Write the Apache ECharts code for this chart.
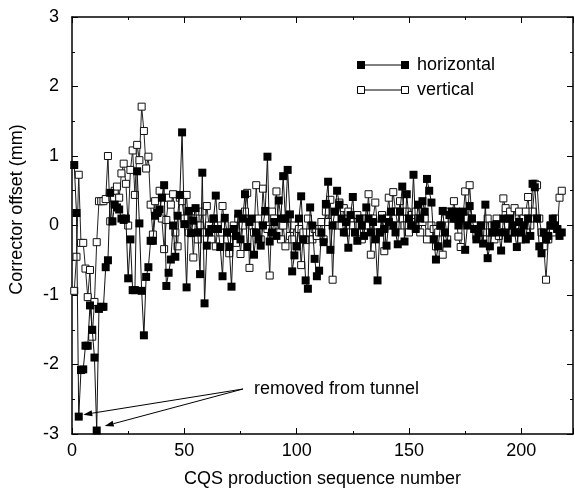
<!DOCTYPE html>
<html>
<head>
<meta charset="utf-8">
<script src="https://cdn.jsdelivr.net/npm/echarts@6/dist/echarts.min.js"></script>
<style>html,body{margin:0;padding:0;background:#fff;}#c{width:575px;height:493px;}</style>
</head>
<body>
<div id="c"></div>
<script>
// Horizontal corrector offsets (mm), sequence numbers 1..218
var horizontal = [
0.87,0.18,-2.75,-2.08,-2.07,-1.73,-1.73,-1.15,-1.5,-1.9,
-2.95,-1.2,-1.17,-1.17,-0.6,-0.5,0.47,0.06,0.3,0.26,
0.23,0.1,0.08,0.1,-0.76,-0.2,-0.93,-0.93,0.78,0.03,
-0.94,-1.58,-0.74,-0.6,-0.22,-0.22,0.14,0.18,0.23,0.4,
0.58,-0.87,-0.68,-0.49,0.0,-0.45,0.14,0.44,1.34,0.02,
-0.89,0.21,-0.11,0.07,0.25,-0.1,-0.7,0.76,-1.12,-0.29,
-0.1,-0.05,0.1,0.43,-0.05,-0.31,-0.73,0.11,-0.1,-0.31,
-0.88,-0.05,-0.15,0.17,-0.2,0.1,0.45,-0.31,0.05,0.1,
-0.42,-0.1,-0.2,-0.29,0.0,0.21,0.99,-0.23,-0.1,0.05,
-0.15,0.36,0.1,0.71,0.1,0.8,0.16,-0.66,-0.43,-0.3,
0.1,0.42,-0.2,-0.79,-0.91,0.26,0.0,-0.48,-0.73,-0.65,
-0.1,-0.24,0.31,0.63,-0.35,0.0,0.2,0.5,0.3,0.1,
-0.1,0.05,-0.32,0.15,0.41,-0.1,-0.22,0.1,0.0,-0.15,
0.26,0.1,-0.1,0.05,-0.2,-0.79,-0.1,0.1,-0.05,-0.29,
0.05,0.2,0.0,-0.1,-0.27,0.2,0.56,-0.23,0.45,0.1,
0.0,0.73,-0.05,0.3,0.1,0.35,0.2,0.67,0.5,0.33,
-0.2,-0.49,-0.3,0.0,0.21,-0.1,-0.26,0.15,0.2,0.1,
0.2,0.0,0.1,0.2,-0.35,0.0,0.28,0.1,-0.05,-0.2,
-0.1,0.0,-0.26,0.3,-0.47,-0.3,-0.1,0.0,0.02,-0.1,
-0.36,0.1,-0.1,-0.19,0.1,0.0,-0.1,-0.31,0.05,-0.1,
0.0,-0.2,0.1,-0.15,0.6,0.55,0.1,-0.3,-0.4,-0.1,
-0.2,-0.15,0.0,0.1,0.0,-0.05,-0.15,-0.1
];
// Vertical corrector offsets (mm), sequence numbers 1..218
var vertical = [
-0.94,-0.45,0.73,-0.25,-0.25,-0.62,-1.03,-0.64,-1.6,-1.1,
-0.24,0.35,0.35,0.35,0.38,1.0,0.06,0.4,0.5,0.56,
0.4,0.75,0.89,0.6,0.0,0.8,1.08,0.44,1.16,0.94,
1.71,1.36,0.82,0.99,0.3,-0.13,0.35,0.2,0.5,0.1,
-0.34,0.08,0.4,0.3,0.45,-0.1,-0.3,0.4,0.35,0.1,
0.44,-0.1,0.2,-0.46,0.1,-0.2,0.0,0.2,-0.1,0.28,
0.0,-0.2,0.1,-0.3,0.0,-0.1,0.28,0.0,-0.2,-0.4,
-0.1,0.0,-0.25,0.1,-0.41,0.0,0.2,0.47,-0.61,0.0,
-0.1,0.58,0.1,-0.2,0.53,0.1,-0.05,-0.72,0.2,0.1,
0.49,-0.1,-0.2,0.0,-0.3,0.1,-0.15,-0.2,0.0,-0.3,
-0.05,-0.57,-0.1,-0.21,0.1,-0.1,-0.2,-0.05,-0.15,-0.1,
0.05,-0.2,0.2,0.05,0.37,-0.78,0.1,0.0,0.33,0.0,
0.25,-0.1,0.2,0.1,0.0,-0.1,0.15,0.0,-0.2,0.1,
0.0,0.45,-0.42,0.1,0.33,0.0,-0.1,0.15,-0.37,0.1,
0.4,0.0,0.48,0.2,0.0,0.35,0.1,0.0,0.2,-0.1,
0.15,0.0,0.2,0.1,-0.1,0.05,0.1,-0.2,-0.1,0.0,
-0.05,-0.3,-0.1,0.0,-0.42,0.1,-0.2,0.2,0.1,0.35,
0.1,-0.16,-0.31,0.1,0.49,0.1,0.58,0.1,0.0,-0.15,
-0.1,0.0,-0.1,-0.2,0.1,-0.1,0.0,-0.2,0.1,-0.15,
0.0,0.39,0.25,0.1,0.2,-0.1,0.25,0.0,0.2,-0.2,
0.1,0.2,0.41,0.0,0.2,0.6,0.58,0.1,-0.1,-0.3,
-0.78,-0.2,0.0,-0.1,0.1,-0.05,0.4,0.5
];
var seriesNames = ['horizontal', 'vertical'];
var xTickLabels = ['0', '50', '100', '150', '200'];
var yTickLabels = ['-3', '-2', '-1', '0', '1', '2', '3'];
var annotationText = 'removed from tunnel';
var removedPoints = [[3, -2.75], [11, -2.95]];

function pairs(arr) { return arr.map(function (v, i) { return [i + 1, v]; }); }

var FONT = 'Liberation Sans, Arial, sans-serif';
var chart = echarts.init(document.getElementById('c'), null, { renderer: 'canvas' });

var axisCommon = {
  axisLine: { show: true, onZero: false, lineStyle: { color: '#000', width: 1.5 } },
  axisTick: { show: true, inside: true, length: 6, lineStyle: { color: '#000', width: 1 } },
  minorTick: { show: true, splitNumber: 2, length: 3, lineStyle: { color: '#000', width: 1 } },
  splitLine: { show: false },
  minorSplitLine: { show: false }
};

var option = {
  animation: false,
  backgroundColor: '#fff',
  grid: { left: 72, right: 2, top: 17, bottom: 54, show: false },
  xAxis: [
    Object.assign({}, axisCommon, {
      type: 'value', min: 0, max: 223, interval: 50, position: 'bottom',
      name: 'CQS production sequence number', nameLocation: 'middle', nameGap: 36,
      nameTextStyle: { fontFamily: FONT, fontSize: 18, color: '#000' },
      axisLabel: { show: true, margin: 8, fontFamily: FONT, fontSize: 18, color: '#000', showMaxLabel: false,
        formatter: function (v) { var s = String(v); return xTickLabels.indexOf(s) >= 0 ? s : ''; } }
    }),
    Object.assign({}, axisCommon, {
      type: 'value', min: 0, max: 223, interval: 50, position: 'top',
      axisLabel: { show: false }
    })
  ],
  yAxis: [
    Object.assign({}, axisCommon, {
      type: 'value', min: -3, max: 3, interval: 1, position: 'left',
      name: 'Corrector offset (mm)', nameLocation: 'middle', nameGap: 46, nameRotate: 90,
      nameTextStyle: { fontFamily: FONT, fontSize: 18, color: '#000', padding: [0, 0, 0, 32] },
      axisLabel: { show: true, margin: 13, fontFamily: FONT, fontSize: 18, color: '#000',
        formatter: function (v) { var s = String(v); return yTickLabels.indexOf(s) >= 0 ? s : ''; } }
    }),
    Object.assign({}, axisCommon, {
      type: 'value', min: -3, max: 3, interval: 1, position: 'right',
      axisLabel: { show: false }
    })
  ],
  series: [
    {
      name: seriesNames[1], type: 'line', data: pairs(vertical), z: 2,
      symbol: 'rect', symbolSize: 7, showAllSymbol: true,
      lineStyle: { color: '#222', width: 1 },
      itemStyle: { color: '#fff', borderColor: '#111', borderWidth: 1 }
    },
    {
      name: seriesNames[0], type: 'line', data: pairs(horizontal), z: 3,
      symbol: 'rect', symbolSize: 8, showAllSymbol: true,
      lineStyle: { color: '#111', width: 1 },
      itemStyle: { color: '#000', borderColor: '#000', borderWidth: 0 }
    }
  ],
  graphic: []
};
chart.setOption(option);

function buildGraphics() {
  var g = [];
  var lx1 = 361, lx2 = 405, ly = [65, 90];
  g.push({ type: 'line', shape: { x1: lx1, y1: ly[0], x2: lx2, y2: ly[0] }, style: { stroke: '#000', lineWidth: 1 } });
  [lx1, lx2].forEach(function (x) {
    g.push({ type: 'rect', shape: { x: x - 4, y: ly[0] - 4, width: 8, height: 8 }, style: { fill: '#000' } });
  });
  g.push({ type: 'text', x: 417, y: ly[0], style: { text: seriesNames[0], fontFamily: FONT, fontSize: 18, fill: '#000', verticalAlign: 'middle' } });
  g.push({ type: 'line', shape: { x1: lx1, y1: ly[1], x2: lx2, y2: ly[1] }, style: { stroke: '#000', lineWidth: 1 } });
  [lx1, lx2].forEach(function (x) {
    g.push({ type: 'rect', shape: { x: x - 3.5, y: ly[1] - 3.5, width: 7, height: 7 }, style: { fill: '#fff', stroke: '#000', lineWidth: 1 } });
  });
  g.push({ type: 'text', x: 417, y: ly[1], style: { text: seriesNames[1], fontFamily: FONT, fontSize: 18, fill: '#000', verticalAlign: 'middle' } });
  g.push({ type: 'text', x: 254, y: 389, style: { text: annotationText, fontFamily: FONT, fontSize: 18, fill: '#000', verticalAlign: 'middle' } });
  var sx = 243, sy = 389;
  var offs = [[4.5, -2], [8, -4.5]];
  removedPoints.forEach(function (p, i) {
    var px = chart.convertToPixel({ xAxisIndex: 0, yAxisIndex: 0 }, p);
    var tx = px[0] + offs[i][0], ty = px[1] + offs[i][1];
    var dx = sx - tx, dy = sy - ty, len = Math.sqrt(dx * dx + dy * dy);
    var ux = dx / len, uy = dy / len;
    var hl = 9, hw = 3;
    var bx = tx + ux * hl, by = ty + uy * hl;
    g.push({ type: 'line', shape: { x1: sx, y1: sy, x2: bx, y2: by }, style: { stroke: '#000', lineWidth: 1 }, z: 100 });
    g.push({ type: 'polygon', shape: { points: [[tx, ty], [bx - uy * hw, by + ux * hw], [bx + uy * hw, by - ux * hw]] }, style: { fill: '#000' }, z: 100 });
  });
  return g;
}
chart.setOption({ graphic: buildGraphics() });
</script>
</body>
</html>
